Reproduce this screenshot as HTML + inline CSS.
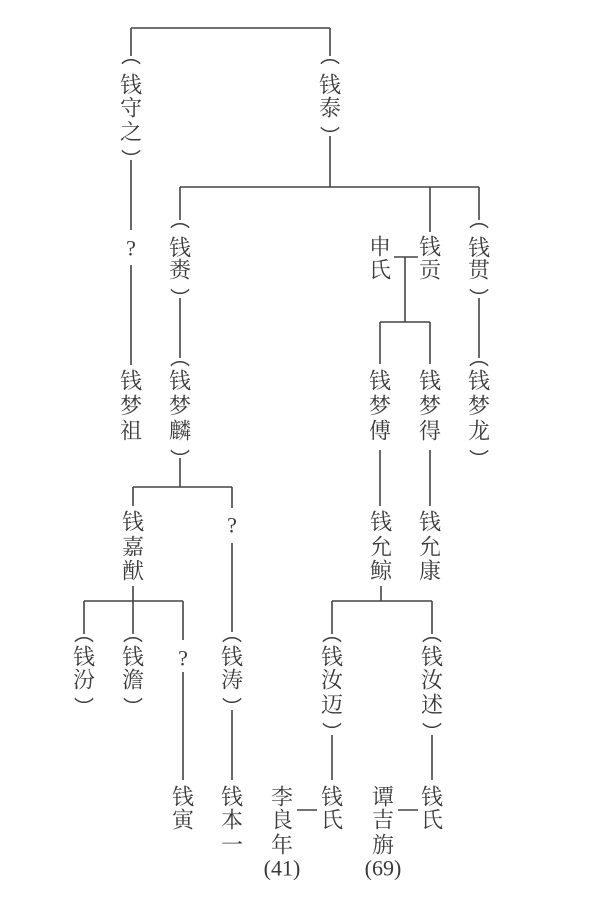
<!DOCTYPE html>
<html><head><meta charset="utf-8"><style>
html,body{margin:0;padding:0;background:#fff;}
svg{display:block}
text{font-family:"Liberation Serif","Noto Serif CJK SC","Noto Sans CJK SC",serif;font-size:22px;fill:#3a3a3a;text-anchor:middle;dominant-baseline:central;}
text.p{font-family:"Noto Sans CJK SC",sans-serif;font-size:20px;}
line{stroke:#444;stroke-width:1.6;}
</style></head><body>
<svg width="606" height="898" viewBox="0 0 606 898" xmlns="http://www.w3.org/2000/svg">
<line x1="131" y1="28" x2="330" y2="28"/>
<line x1="131" y1="28" x2="131" y2="56"/>
<line x1="330" y1="28" x2="330" y2="56"/>
<line x1="131" y1="160" x2="131" y2="230"/>
<line x1="131" y1="265" x2="131" y2="365"/>
<line x1="330" y1="136" x2="330" y2="187"/>
<line x1="180" y1="187" x2="479" y2="187"/>
<line x1="180" y1="187" x2="180" y2="220"/>
<line x1="430" y1="187" x2="430" y2="232"/>
<line x1="479" y1="187" x2="479" y2="220"/>
<line x1="180" y1="298" x2="180" y2="358"/>
<line x1="479" y1="298" x2="479" y2="358"/>
<line x1="394" y1="257" x2="418" y2="257"/>
<line x1="405" y1="257" x2="405" y2="322"/>
<line x1="380" y1="322" x2="430" y2="322"/>
<line x1="380" y1="322" x2="380" y2="364"/>
<line x1="430" y1="322" x2="430" y2="364"/>
<line x1="180" y1="458" x2="180" y2="487"/>
<line x1="133" y1="487" x2="232" y2="487"/>
<line x1="133" y1="487" x2="133" y2="506"/>
<line x1="232" y1="487" x2="232" y2="508"/>
<line x1="232" y1="543" x2="232" y2="632"/>
<line x1="380" y1="450" x2="380" y2="506"/>
<line x1="430" y1="450" x2="430" y2="506"/>
<line x1="133" y1="586" x2="133" y2="634"/>
<line x1="84" y1="601" x2="183" y2="601"/>
<line x1="84" y1="601" x2="84" y2="634"/>
<line x1="183" y1="601" x2="183" y2="640"/>
<line x1="183" y1="672" x2="183" y2="780"/>
<line x1="232" y1="710" x2="232" y2="780"/>
<line x1="381" y1="586" x2="381" y2="601"/>
<line x1="332" y1="601" x2="432" y2="601"/>
<line x1="332" y1="601" x2="332" y2="634"/>
<line x1="432" y1="601" x2="432" y2="634"/>
<line x1="332" y1="735" x2="332" y2="780"/>
<line x1="432" y1="735" x2="432" y2="780"/>
<line x1="297" y1="810" x2="317" y2="810"/>
<line x1="398" y1="810" x2="418" y2="810"/>

<text class="p" x="131" y="54">︵</text><text x="131" y="85">钱</text><text x="131" y="108">守</text><text x="131" y="132">之</text><text class="p" x="131" y="158">︶</text>
<text x="131" y="248">?</text>
<text x="131" y="381">钱</text><text x="131" y="406">梦</text><text x="131" y="431">祖</text>
<text class="p" x="330" y="54">︵</text><text x="330" y="85">钱</text><text x="330" y="108">泰</text><text class="p" x="330" y="135">︶</text>
<text class="p" x="180" y="218">︵</text><text x="180" y="248">钱</text><text x="180" y="270">赉</text><text class="p" x="180" y="297">︶</text>
<text class="p" x="180" y="356">︵</text><text x="180" y="381">钱</text><text x="180" y="406">梦</text><text x="180" y="431">麟</text><text class="p" x="180" y="458">︶</text>
<text x="380" y="247">申</text><text x="380" y="270">氏</text>
<text x="430" y="247">钱</text><text x="430" y="270">贡</text>
<text class="p" x="479" y="218">︵</text><text x="479" y="248">钱</text><text x="479" y="270">贯</text><text class="p" x="479" y="297">︶</text>
<text class="p" x="479" y="356">︵</text><text x="479" y="381">钱</text><text x="479" y="406">梦</text><text x="479" y="431">龙</text><text class="p" x="479" y="458">︶</text>
<text x="380" y="381">钱</text><text x="380" y="406">梦</text><text x="380" y="431">傅</text>
<text x="430" y="381">钱</text><text x="430" y="406">梦</text><text x="430" y="431">得</text>
<text x="133" y="522">钱</text><text x="133" y="547">嘉</text><text x="133" y="571">猷</text>
<text x="232" y="525">?</text>
<text x="381" y="522">钱</text><text x="381" y="547">允</text><text x="381" y="571">鲸</text>
<text x="430" y="522">钱</text><text x="430" y="547">允</text><text x="430" y="571">康</text>
<text class="p" x="84" y="632">︵</text><text x="84" y="657">钱</text><text x="84" y="680">汾</text><text class="p" x="84" y="706">︶</text>
<text class="p" x="133" y="632">︵</text><text x="133" y="657">钱</text><text x="133" y="680">澹</text><text class="p" x="133" y="706">︶</text>
<text x="183" y="658">?</text>
<text class="p" x="232" y="632">︵</text><text x="232" y="657">钱</text><text x="232" y="680">涛</text><text class="p" x="232" y="706">︶</text>
<text class="p" x="332" y="632">︵</text><text x="332" y="657">钱</text><text x="332" y="680">汝</text><text x="332" y="705">迈</text><text class="p" x="332" y="731">︶</text>
<text class="p" x="432" y="632">︵</text><text x="432" y="657">钱</text><text x="432" y="680">汝</text><text x="432" y="705">述</text><text class="p" x="432" y="731">︶</text>
<text x="183" y="797">钱</text><text x="183" y="820">寅</text>
<text x="232" y="797">钱</text><text x="232" y="820">本</text><text x="232" y="845">一</text>
<text x="282" y="797">李</text><text x="282" y="820">良</text><text x="282" y="845">年</text><text x="282" y="868">(41)</text>
<text x="332" y="797">钱</text><text x="332" y="820">氏</text>
<text x="383" y="797">谭</text><text x="383" y="820">吉</text><text x="383" y="845">旃</text><text x="383" y="868">(69)</text>
<text x="432" y="797">钱</text><text x="432" y="820">氏</text>
</svg>
</body></html>
